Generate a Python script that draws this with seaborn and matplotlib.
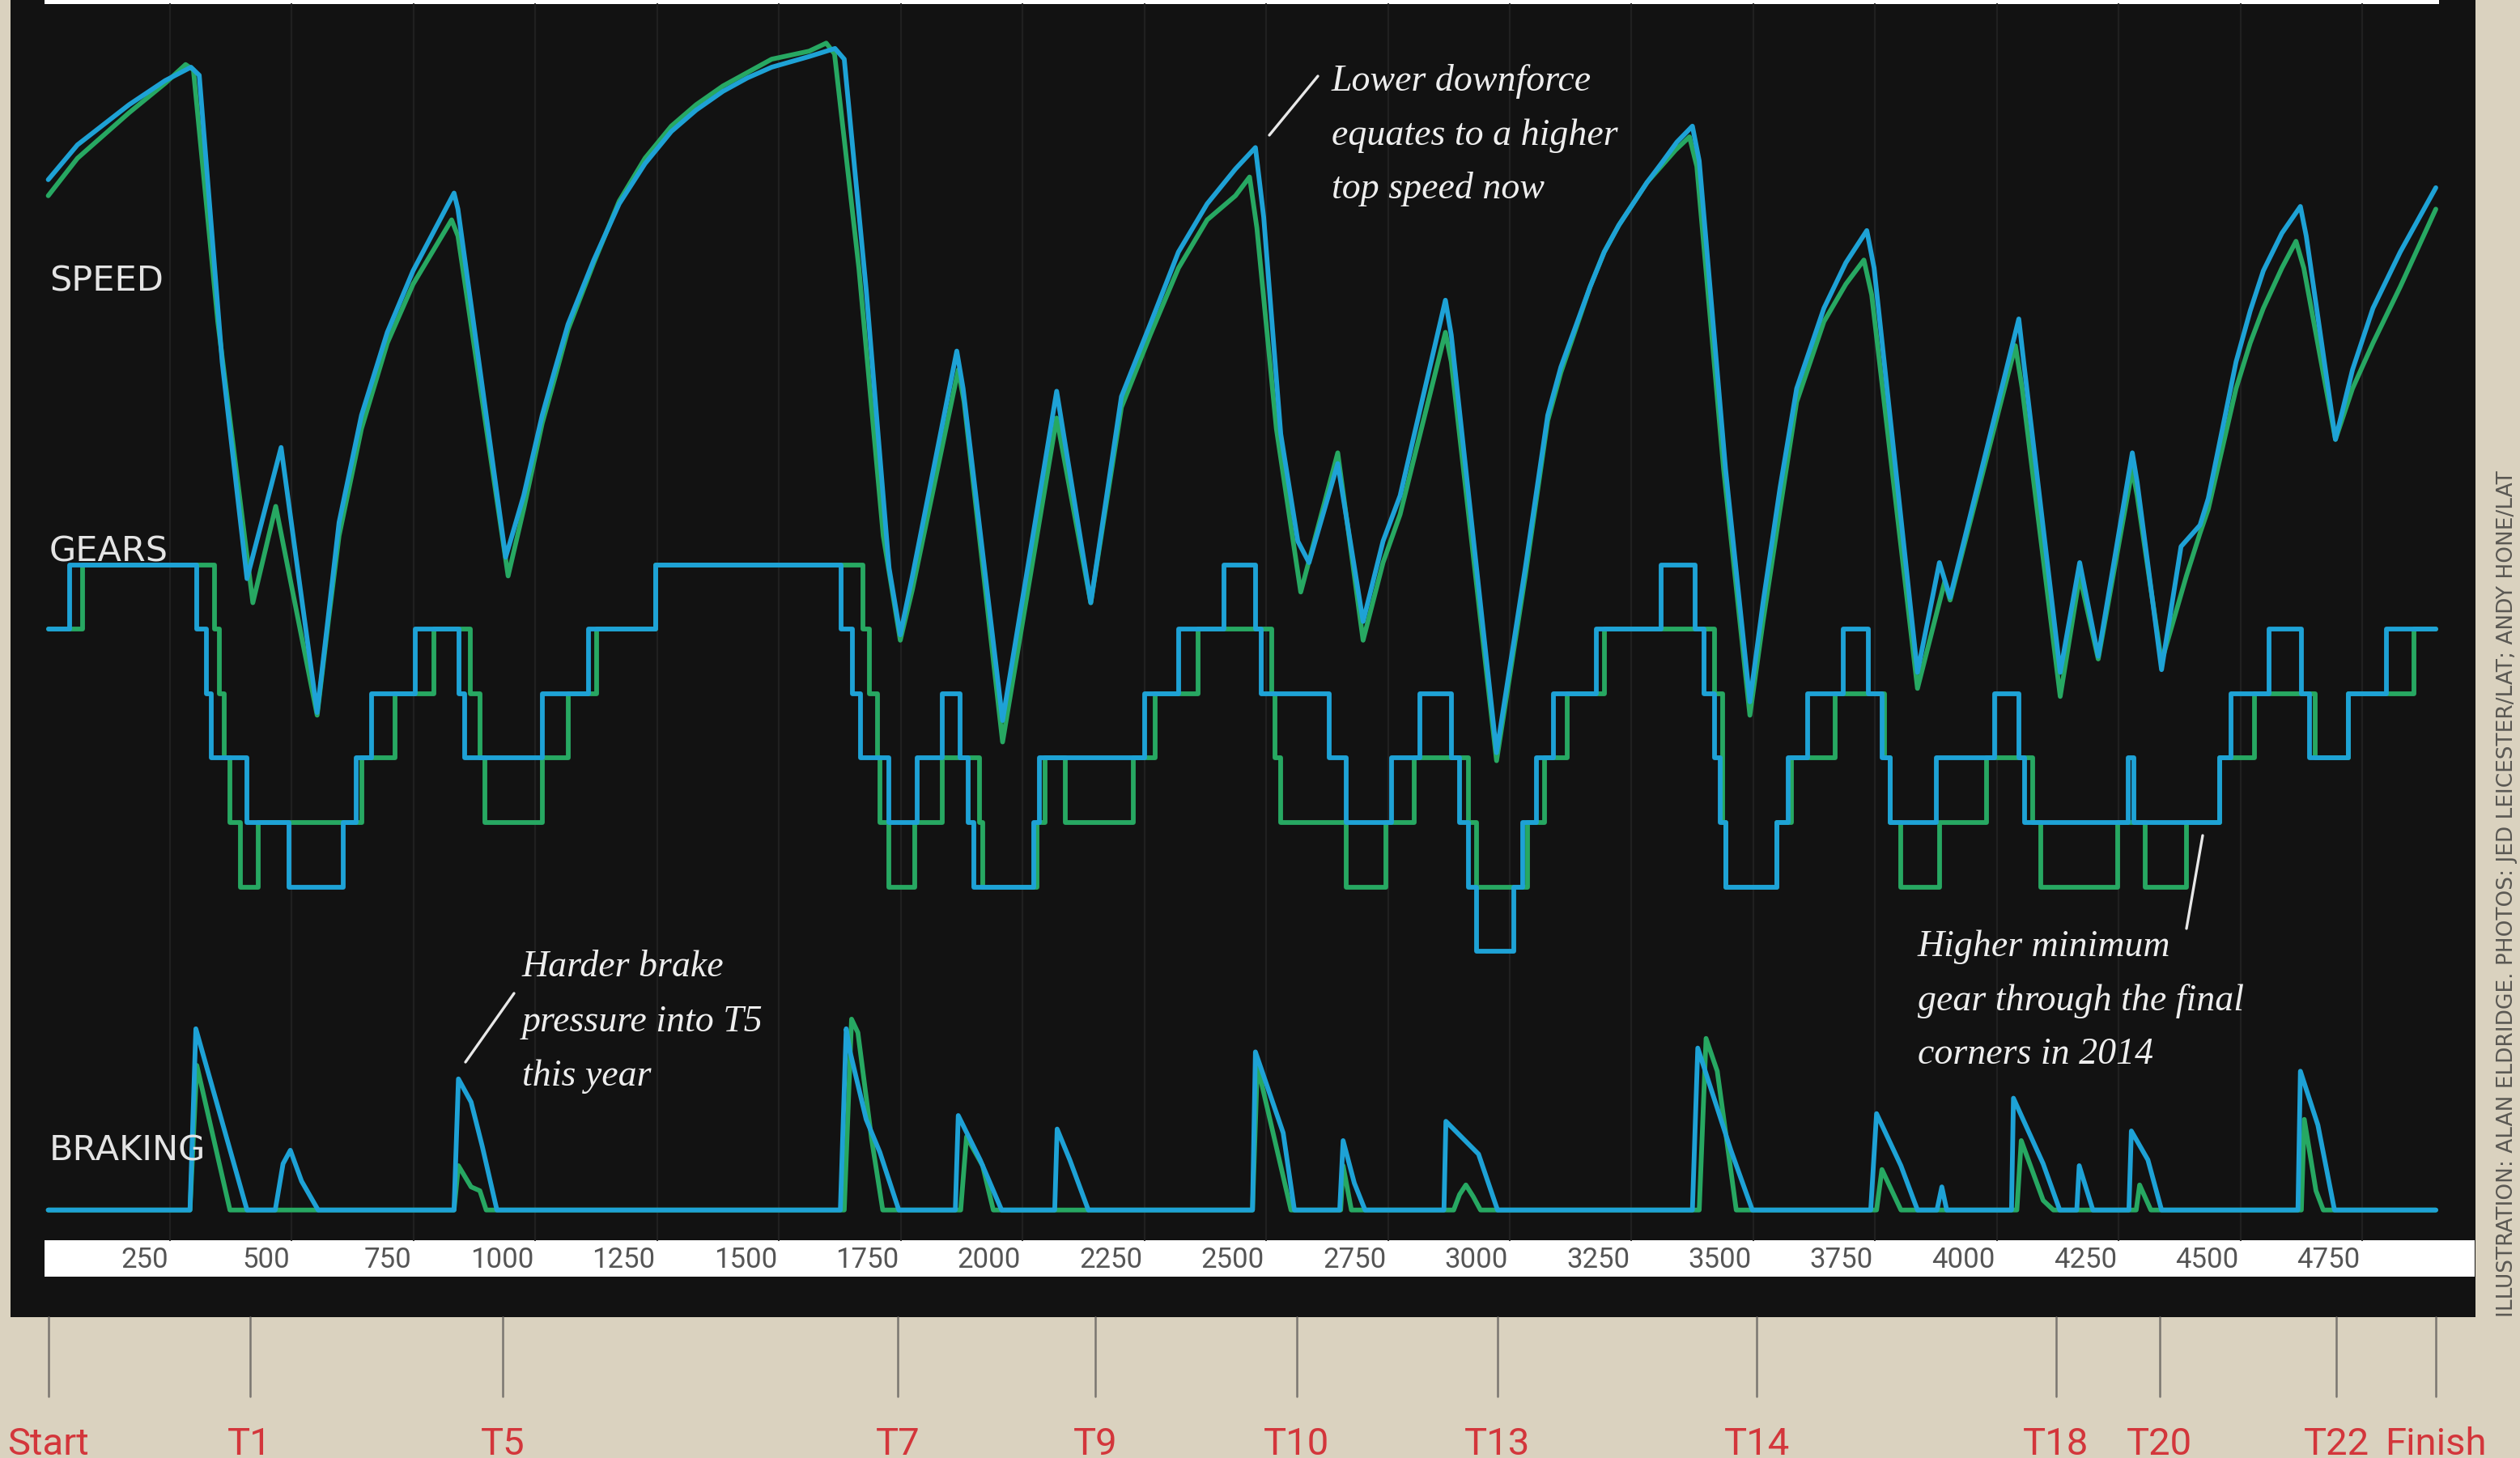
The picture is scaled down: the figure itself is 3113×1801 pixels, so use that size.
import matplotlib
matplotlib.use("Agg")
import matplotlib.pyplot as plt
import matplotlib.transforms as mtransforms
from matplotlib.patches import Rectangle
from matplotlib.lines import Line2D
import seaborn as sns

sns.set_theme(style="dark")
plt.rcParams["font.family"] = ["DejaVu Sans"]

# ---- data (distance in metres) ----
# speed, km/h
speed_dist_2014 = [0, 60, 166, 240, 293, 310, 357, 408, 478, 552, 575, 597, 643, 696, 749, 833, 841, 939, 976, 1014,
                   1040, 1067, 1120, 1172, 1225, 1279, 1330, 1385, 1435, 1485, 1562, 1615, 1634, 1679, 1726, 1749, 1774, 1865, 1878, 1959,
                   2070, 2140, 2203, 2262, 2320, 2379, 2437, 2478, 2495, 2530, 2565, 2588, 2647, 2699, 2740, 2775, 2868, 2880, 2973, 3032,
                   3078, 3105, 3137, 3165, 3194, 3224, 3253, 3282, 3311, 3343, 3375, 3389, 3443, 3493, 3520, 3555, 3589, 3645, 3690, 3733,
                   3748, 3837, 3882, 3904, 4045, 4055, 4130, 4170, 4208, 4278, 4288, 4338, 4378, 4417, 4434, 4491, 4520, 4547, 4585, 4623,
                   4635, 4695, 4730, 4772, 4828, 4901]
speed_2014 = [283, 296, 311, 320, 325, 322, 215, 134, 183, 84, 120, 155, 195, 226, 249, 278, 272, 142, 165, 195,
              212, 229, 253, 274, 289, 301, 309, 316, 321, 325, 329, 332, 328, 242, 138, 113, 135, 219, 205, 81,
              204, 125, 202, 229, 256, 274, 287, 295, 269, 188, 148, 140, 177, 118, 148, 165, 238, 225, 69, 138,
              195, 213, 229, 243, 256, 266, 274, 282, 289, 297, 303, 290, 175, 88, 125, 168, 205, 235, 252, 264,
              250, 99, 140, 127, 231, 215, 99, 140, 105, 181, 170, 100, 146, 154, 164, 215, 234, 249, 263, 273,
              262, 186, 212, 235, 256, 280]

speed_dist_2013 = [0, 60, 166, 240, 282, 298, 348, 420, 467, 552, 575, 597, 643, 696, 749, 828, 841, 944, 976, 1014,
                   1040, 1067, 1120, 1172, 1225, 1279, 1330, 1385, 1435, 1485, 1562, 1597, 1614, 1664, 1714, 1749, 1774, 1868, 1880, 1959,
                   2070, 2140, 2203, 2262, 2320, 2379, 2437, 2466, 2481, 2521, 2571, 2647, 2699, 2740, 2775, 2868, 2880, 2973, 3032, 3078,
                   3105, 3137, 3165, 3194, 3224, 3253, 3282, 3311, 3340, 3369, 3384, 3439, 3493, 3520, 3555, 3589, 3645, 3690, 3727, 3743,
                   3837, 3893, 3904, 4038, 4052, 4130, 4170, 4208, 4278, 4288, 4338, 4389, 4417, 4434, 4491, 4520, 4547, 4585, 4614, 4630,
                   4695, 4730, 4772, 4828, 4901]
speed_2013 = [277, 291, 308, 319, 326, 324, 230, 125, 161, 83, 118, 150, 190, 222, 244, 268, 262, 135, 160, 192,
              209, 227, 252, 275, 291, 303, 311, 318, 323, 328, 331, 334, 330, 250, 150, 111, 130, 212, 200, 73,
              194, 125, 198, 225, 250, 268, 277, 284, 265, 190, 129, 181, 111, 140, 158, 226, 215, 66, 135, 193,
              211, 228, 243, 256, 266, 274, 282, 288, 294, 299, 288, 175, 83, 118, 160, 200, 230, 244, 253, 240,
              93, 133, 126, 221, 205, 90, 135, 104, 175, 165, 103, 135, 151, 160, 205, 222, 235, 250, 260, 250,
              186, 205, 222, 243, 272]

# gear changes (gear held from each distance on)
gear_dist_2014 = [0, 44, 304, 325, 335, 408, 494, 606, 632, 664, 754, 844, 854, 1014, 1109, 1247, 1627, 1650, 1668, 1726,
                  1784, 1836, 1871, 1889, 1900, 2023, 2035, 2250, 2320, 2414, 2478, 2490, 2629, 2664, 2758, 2816, 2880, 2897, 2915, 2932,
                  3008, 3026, 3055, 3090, 3177, 3311, 3381, 3398, 3420, 3432, 3443, 3549, 3572, 3611, 3685, 3736, 3764, 3781, 3876, 3995,
                  4045, 4057, 4270, 4282, 4457, 4480, 4558, 4625, 4642, 4721, 4800, 4901]
gear_2014 = [7, 8, 7, 6, 5, 4, 3, 4, 5, 6, 7, 6, 5, 6, 7, 8, 7, 6, 5, 4,
             5, 6, 5, 4, 3, 4, 5, 6, 7, 8, 7, 6, 5, 4, 5, 6, 5, 4, 3, 2,
             3, 4, 5, 6, 7, 8, 7, 6, 5, 4, 3, 4, 5, 6, 7, 6, 5, 4, 5, 6,
             5, 4, 5, 4, 5, 6, 7, 6, 5, 6, 7, 7]

gear_dist_2013 = [0, 71, 341, 351, 362, 373, 394, 431, 643, 712, 792, 867, 886, 897, 1014, 1067, 1125, 1247, 1673, 1685,
                  1703, 1708, 1726, 1779, 1836, 1912, 1918, 2029, 2046, 2087, 2227, 2273, 2361, 2512, 2518, 2530, 2664, 2746, 2804, 2915,
                  2932, 3037, 3072, 3118, 3194, 3420, 3437, 3443, 3549, 3578, 3668, 3770, 3781, 3803, 3882, 3978, 4073, 4090, 4248, 4304,
                  4389, 4457, 4529, 4654, 4721, 4856, 4901]
gear_2013 = [7, 8, 7, 6, 5, 4, 3, 4, 5, 6, 7, 6, 5, 4, 5, 6, 7, 8, 7, 6,
             5, 4, 3, 4, 5, 4, 3, 4, 5, 4, 5, 6, 7, 6, 5, 4, 3, 4, 5, 4,
             3, 4, 5, 6, 7, 6, 4, 3, 4, 5, 6, 5, 4, 3, 4, 5, 4, 3, 4, 3,
             4, 5, 6, 5, 6, 7, 7]

# brake pressure, %
brake_dist_2014 = [0, 291, 303, 408, 466, 482, 497, 520, 554, 833, 842, 868, 891, 921, 1626, 1638, 1646, 1679, 1707, 1746,
                   1862, 1868, 1913, 1957, 2066, 2071, 2097, 2135, 2472, 2478, 2535, 2558, 2651, 2658, 2681, 2703, 2865, 2869, 2936, 2975,
                   3375, 3386, 3454, 3498, 3741, 3753, 3803, 3837, 3877, 3887, 3897, 4030, 4034, 4095, 4129, 4164, 4169, 4197, 4271, 4276,
                   4310, 4338, 4618, 4623, 4659, 4693, 4901]
brake_2014 = [0, 0, 94, 0, 0, 24, 31, 15, 0, 0, 68, 56, 33, 0, 0, 94, 82, 47, 30, 0,
              0, 49, 26, 0, 0, 42, 26, 0, 0, 82, 40, 0, 0, 36, 14, 0, 0, 46, 29, 0,
              0, 84, 31, 0, 0, 50, 23, 0, 0, 12, 0, 0, 58, 24, 0, 0, 23, 0, 0, 41,
              26, 0, 0, 72, 44, 0, 0]

brake_dist_2013 = [0, 291, 305, 373, 833, 842, 868, 886, 899, 1634, 1649, 1662, 1690, 1713, 1873, 1885, 1918, 1940, 2472, 2482,
                   2551, 2653, 2658, 2675, 2885, 2897, 2910, 2925, 2940, 3389, 3403, 3426, 3465, 3753, 3764, 3803, 4041, 4050, 4095, 4116,
                   4286, 4293, 4316, 4625, 4631, 4655, 4670, 4901]
brake_2013 = [0, 0, 75, 0, 0, 23, 12, 10, 0, 0, 99, 92, 37, 0, 0, 38, 23, 0, 0, 75,
              0, 0, 23, 0, 0, 8, 13, 7, 0, 0, 89, 72, 0, 0, 21, 0, 0, 36, 5, 0,
              0, 13, 0, 0, 47, 10, 0, 0]

tick_values = [250, 500, 750, 1000, 1250, 1500, 1750, 2000, 2250, 2500,
               2750, 3000, 3250, 3500, 3750, 4000, 4250, 4500, 4750]
turn_names = ["Start", "T1", "T5", "T7", "T9", "T10", "T13", "T14", "T18", "T20", "T22", "Finish"]
turn_dist = [0, 414, 933, 1744, 2149, 2563, 2975, 3507, 4121, 4334, 4697, 4901]

# ---- style ----
BEIGE = "#dad2bf"
PANEL = "#121212"
BLUE = "#1ea2d6"
GREEN = "#27a862"
RED = "#d3363b"
W, H = 3113, 1801


def fx(px):
    return px / W


def fy(py):
    return 1 - py / H


fig = plt.figure(figsize=(W / 100, H / 100), dpi=100, facecolor=BEIGE)


def block(x0, y0, x1, y1, color):
    fig.add_artist(Rectangle((fx(x0), fy(y1)), fx(x1) - fx(x0), fy(y0) - fy(y1),
                             transform=fig.transFigure, facecolor=color, edgecolor="none", zorder=-10))


block(13, 0, 3058, 1627, PANEL)
block(55, 0, 3013, 5, "white")
block(55, 1532, 3057, 1577, "white")

ax = fig.add_axes([0, 0, 1, 1])
ax.set_xlim(-99.0, 5073.8)
ax.set_ylim(-194.4, 350.1)
ax_gear = ax.twinx()
ax_gear.set_ylim(-5.862, 16.764)
ax_brake = ax.twinx()
ax_brake.set_ylim(-128.6, 627.5)
for a in (ax, ax_gear, ax_brake):
    a.set_facecolor("none")
    a.axis("off")

# faint grid
for t in tick_values:
    ax.axvline(t, ymin=fy(1532), ymax=fy(5), color="#202020", lw=1.6, zorder=0.5)

lw = 4.2
sns.lineplot(x=speed_dist_2013, y=speed_2013, ax=ax, color=GREEN, lw=lw, sort=False, estimator=None)
sns.lineplot(x=speed_dist_2014, y=speed_2014, ax=ax, color=BLUE, lw=lw, sort=False, estimator=None)
sns.lineplot(x=gear_dist_2013, y=gear_2013, ax=ax_gear, color=GREEN, lw=lw, sort=False,
             estimator=None, drawstyle="steps-post")
sns.lineplot(x=gear_dist_2014, y=gear_2014, ax=ax_gear, color=BLUE, lw=lw, sort=False,
             estimator=None, drawstyle="steps-post")
sns.lineplot(x=brake_dist_2013, y=brake_2013, ax=ax_brake, color=GREEN, lw=lw, sort=False, estimator=None)
sns.lineplot(x=brake_dist_2014, y=brake_2014, ax=ax_brake, color=BLUE, lw=lw, sort=False, estimator=None)
for a in (ax, ax_gear, ax_brake):
    a.set_xlim(-99.0, 5073.8)
    a.axis("off")

# distance labels on the white band
xfig = mtransforms.blended_transform_factory(ax.transData, fig.transFigure)
for t in tick_values:
    ax.text(t - 4, fy(1566), str(t), transform=xfig, ha="right", va="baseline",
            fontsize=25, color="#555555", family=["Roboto", "DejaVu Sans"])

# turn markers below the panel
for name, d in zip(turn_names, turn_dist):
    ax.plot([d, d], [fy(1627), fy(1725)], transform=xfig, color="#7a7670", lw=1.8, clip_on=False)
    ax.text(d, fy(1797), name, transform=xfig, ha="center", va="baseline", fontsize=34,
            color=RED, family=["Roboto", "DejaVu Sans"], clip_on=False)

# section labels
for label, base in [("SPEED", 359), ("GEARS", 694), ("BRAKING", 1434)]:
    fig.text(fx(61), fy(base), label, ha="left", va="baseline", fontsize=31, color="#e4e4e4")

# annotations
notes = [
    (1645, [112, 179, 245], ["Lower downforce", "equates to a higher", "top speed now"], (1568, 167, 1628, 94)),
    (645, [1206, 1274, 1341], ["Harder brake", "pressure into T5", "this year"], (575, 1312, 635, 1227)),
    (2369, [1181, 1248, 1314], ["Higher minimum", "gear through the final", "corners in 2014"], (2701, 1147, 2721, 1032)),
]
for left, bases, lines, (x0, y0, x1, y1) in notes:
    for b, s in zip(bases, lines):
        fig.text(fx(left), fy(b), s, ha="left", va="baseline", fontsize=33, style="italic",
                 color="#eeeeee", family=["Liberation Serif", "DejaVu Serif"])
    fig.add_artist(Line2D([fx(x0), fx(x1)], [fy(y0), fy(y1)], transform=fig.transFigure,
                          color="#e8e8e8", lw=2.4))

# credit
fig.text(fx(3097), fy(1627), "ILLUSTRATION: ALAN ELDRIDGE. PHOTOS: JED LEICESTER/LAT; ANDY HONE/LAT",
         rotation=90, ha="center", va="bottom", fontsize=19, color="#5a5853")

fig.savefig("out.png", dpi=100, facecolor=BEIGE)
